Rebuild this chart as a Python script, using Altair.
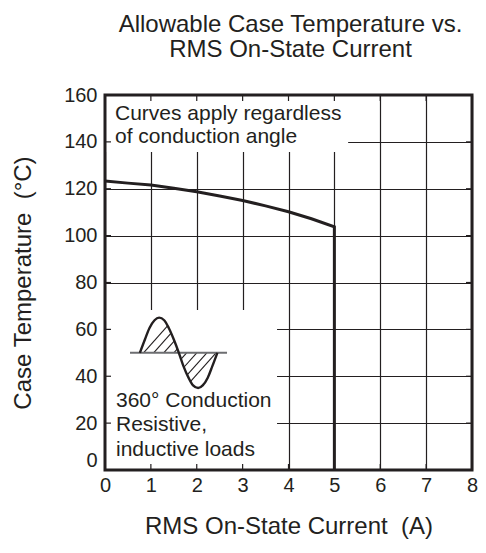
import altair as alt
import numpy as np
import pandas as pd

# ---------------- data ----------------
current_a = [0, 0.5, 1, 1.5, 2, 2.5, 3, 3.5, 4, 4.5, 5, 5]
case_temp_c = [123.3, 122.4, 121.6, 120.2, 118.7, 116.9, 115.0, 112.7, 110.2, 107.2, 103.8, 0]

x_tick_values = [0, 1, 2, 3, 4, 5, 6, 7, 8]
y_tick_values = [0, 20, 40, 60, 80, 100, 120, 140, 160]

title_lines = ["Allowable Case Temperature vs.", "RMS On-State Current"]
x_title = "RMS On-State Current\u00a0 (A)"
y_title = "Case Temperature\u00a0 (°C)"
note_top_lines = ["Curves apply regardless", "of conduction angle"]
note_bottom_lines = ["360° Conduction", "Resistive,", "inductive loads"]

# waveform icon outline (hand traced, in axis units)
icon_x = [0.76, 0.87, 0.97, 1.08, 1.18, 1.29, 1.39, 1.50, 1.61,
          1.71, 1.82, 1.92, 2.03, 2.13, 2.24, 2.34, 2.45]
icon_y = [50, 55.7, 60.6, 63.9, 65, 63.9, 60.6, 55.7, 50,
          44.3, 39.4, 36.1, 35, 36.1, 39.4, 44.3, 50]

# ---------------- layout / style constants ----------------
INK = "#231f20"
FONT = "Liberation Sans"
W, H = 367, 375
X_DOM, Y_DOM = [0, 8], [0, 160]
TOP_BOX = dict(x=0, x2=5.3, y=135.7, y2=160)
LOW_BOX = dict(x=0, x2=3.75, y=0, y2=68.3)
TICK_X, TICK_Y = 0.131, 2.56
NOTE_TOP = dict(x=0.218, y=[149.3, 139.4])
NOTE_LOW = dict(x=0.24, y=[27.0, 16.6, 6.1])
ICON_BASE = 50
ICON_BASE_SPAN = [0.545, 2.66]
HATCH_POS = [0.84, 1.06, 1.28, 1.50]
HATCH_NEG = [1.78, 2.00, 2.22, 2.42]
HATCH_SLOPE = 22.0

xs = alt.Scale(domain=X_DOM, nice=False, zero=False)
ys = alt.Scale(domain=Y_DOM, nice=False, zero=False)

x_axis = alt.Axis(
    values=x_tick_values, title=x_title, format="d", grid=True, ticks=False, tickSize=0,
    domain=False, labelFontSize=20, labelPadding=5, labelColor=INK, labelFont=FONT,
    labelAngle=0, labelFlush=False, labelOverlap=False,
    titleFontSize=24, titleFontWeight="normal", titleColor=INK, titleFont=FONT, titlePadding=19,
    gridColor=INK, gridWidth=1.2, gridOpacity=1,
)
y_axis = alt.Axis(
    values=y_tick_values, title=y_title, format="d", grid=True, ticks=False, tickSize=0,
    domain=False, labelFontSize=20, labelPadding=8, labelColor=INK, labelFont=FONT,
    labelFlush=False, labelOverlap=False,
    labelBaseline={"condition": {"test": "datum.value == 0", "value": "bottom"}, "value": "middle"},
    titleFontSize=24, titleFontWeight="normal", titleColor=INK, titleFont=FONT, titlePadding=28,
    gridColor=INK, gridWidth=1.2, gridOpacity=1,
)


def X(f="x"):
    return alt.X(f"{f}:Q", scale=xs, axis=x_axis)


def Y(f="y"):
    return alt.Y(f"{f}:Q", scale=ys, axis=y_axis)


# white boxes behind the notes (hide grid)
boxes = pd.DataFrame([TOP_BOX, LOW_BOX])
box_layer = alt.Chart(boxes).mark_rect(color="white").encode(
    x=X(), x2="x2:Q", y=Y(), y2="y2:Q")

# inward ticks on all four sides
tick_rows = []
for v in x_tick_values[1:-1]:
    tick_rows.append(dict(x=v, x2=v, y=Y_DOM[0], y2=Y_DOM[0] + TICK_Y))
    tick_rows.append(dict(x=v, x2=v, y=Y_DOM[1] - TICK_Y, y2=Y_DOM[1]))
for v in y_tick_values[1:-1]:
    tick_rows.append(dict(x=X_DOM[0], x2=X_DOM[0] + TICK_X, y=v, y2=v))
    tick_rows.append(dict(x=X_DOM[1] - TICK_X, x2=X_DOM[1], y=v, y2=v))
tick_layer = alt.Chart(pd.DataFrame(tick_rows)).mark_rule(color=INK, strokeWidth=1.2).encode(
    x=X(), x2="x2:Q", y=Y(), y2="y2:Q")

# derating curve
curve_df = pd.DataFrame({"x": current_a, "y": case_temp_c, "o": range(len(current_a))})
curve_layer = alt.Chart(curve_df).mark_line(color=INK, strokeWidth=3, strokeJoin="miter").encode(
    x=X(), y=Y(), order="o:Q")

# waveform icon: hatching between outline and baseline
ox, oy = np.array(icon_x), np.array(icon_y)
zero_x = icon_x[8]
hatch = []
for xb in HATCH_POS:
    t = np.linspace(xb, zero_x, 600)
    line = ICON_BASE + HATCH_SLOPE * (t - xb)
    idx = int(np.argmax(line >= np.interp(t, ox, oy)))
    hatch.append(dict(x=xb, y=ICON_BASE, x2=t[idx], y2=line[idx]))
for xb in HATCH_NEG:
    t = np.linspace(xb, zero_x, 600)
    line = ICON_BASE - HATCH_SLOPE * (xb - t)
    idx = int(np.argmax(line <= np.interp(t, ox, oy)))
    hatch.append(dict(x=t[idx], y=line[idx], x2=xb, y2=ICON_BASE))
hatch_layer = alt.Chart(pd.DataFrame(hatch)).mark_rule(color=INK, strokeWidth=1.1).encode(
    x=X(), x2="x2:Q", y=Y(), y2="y2:Q")

base_df = pd.DataFrame([dict(x=ICON_BASE_SPAN[0], x2=ICON_BASE_SPAN[1], y=ICON_BASE)])
base_layer = alt.Chart(base_df).mark_rule(color="#6d6e71", strokeWidth=2).encode(
    x=X(), x2="x2:Q", y=Y())

icon_df = pd.DataFrame({"x": icon_x, "y": icon_y, "o": range(len(icon_x))})
icon_layer = alt.Chart(icon_df).mark_line(color=INK, strokeWidth=2.4, interpolate="monotone").encode(
    x=X(), y=Y(), order="o:Q")

# notes
notes_df = pd.DataFrame(
    [dict(x=NOTE_TOP["x"], y=yy, t=tt) for tt, yy in zip(note_top_lines, NOTE_TOP["y"])]
    + [dict(x=NOTE_LOW["x"], y=yy, t=tt) for tt, yy in zip(note_bottom_lines, NOTE_LOW["y"])]
)
notes_layer = alt.Chart(notes_df).mark_text(
    align="left", baseline="alphabetic", fontSize=21, font=FONT, color=INK).encode(
    x=X(), y=Y(), text="t:N")

# frame
frame_df = pd.DataFrame([dict(x=X_DOM[0], x2=X_DOM[1], y=Y_DOM[0], y2=Y_DOM[1])])
frame_layer = alt.Chart(frame_df).mark_rect(filled=False, color=INK, strokeWidth=3).encode(
    x=X(), x2="x2:Q", y=Y(), y2="y2:Q")

chart = alt.layer(
    box_layer, tick_layer, curve_layer, hatch_layer, base_layer, icon_layer, notes_layer, frame_layer
).properties(
    width=W, height=H,
    autosize=alt.AutoSizeParams(type="none"),
    padding={"left": 97, "top": 87, "right": 6, "bottom": 75},
    title=alt.TitleParams(
        text=title_lines, fontSize=24, fontWeight="normal", font=FONT, color=INK,
        lineHeight=25, anchor="middle", frame="group", dx=2, offset=23.5),
).configure_view(stroke=None).configure(font=FONT)

chart.save("out.html", embed_options={"renderer": "svg", "actions": False})
